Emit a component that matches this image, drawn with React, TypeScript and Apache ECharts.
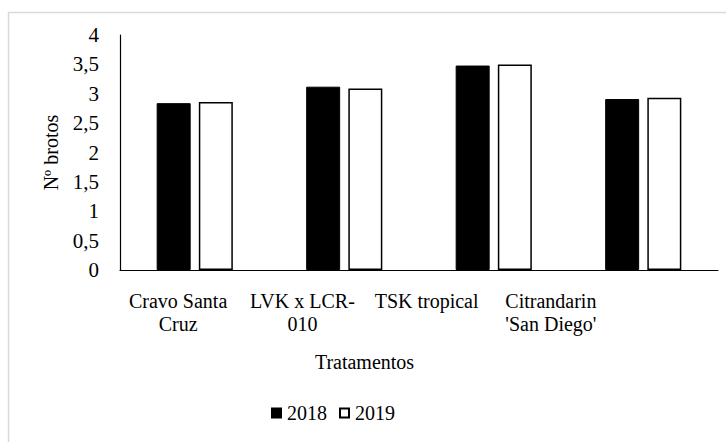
import React, { useEffect, useRef } from "react";
import * as echarts from "echarts";

const categories = ["Cravo Santa\nCruz", "LVK x LCR-\n010", "TSK tropical", "Citrandarin\n'San Diego'"];
const values2018 = [2.84, 3.12, 3.48, 2.91];
const values2019 = [2.86, 3.09, 3.5, 2.93];
const seriesNames = ["2018", "2019"];

const FONT = "'Liberation Serif', 'Times New Roman', serif";

export default function App() {
  const ref = useRef<HTMLDivElement>(null);
  useEffect(() => {
    if (!ref.current) return;
    const chart = echarts.init(ref.current, null, { renderer: "svg" });
    const txt = { fontFamily: FONT, fontSize: 20, color: "#000" };
    chart.setOption({
      animation: false,
      backgroundColor: "#ffffff",
      graphic: [
        {
          type: "rect",
          shape: { x: 8.5, y: 12.5, width: 740, height: 450 },
          style: { fill: "none", stroke: "#d9d9d9", lineWidth: 1.5 },
          silent: true,
        },
      ],
      legend: {
        data: seriesNames,
        left: 266,
        top: 398,
        icon: "rect",
        itemWidth: 9,
        itemHeight: 9,
        itemGap: 12,
        textStyle: { ...txt, padding: [0, 0, 0, 1] },
      },
      grid: [
        { left: 120, right: 8, top: 35, bottom: 172 },
        { left: 116, width: 497, top: 35, bottom: 172 },
      ],
      xAxis: [
        {
          type: "category",
          gridIndex: 0,
          data: categories,
          axisLine: { lineStyle: { color: "#000", width: 1.2 } },
          axisTick: { show: false },
          axisLabel: { show: false },
        },
        {
          type: "category",
          gridIndex: 1,
          data: categories,
          axisLine: { show: false },
          axisTick: { show: false },
          axisLabel: {
            ...txt,
            lineHeight: 23,
            margin: 19,
            interval: 0,
          },
          name: "Tratamentos",
          nameLocation: "middle",
          nameGap: 82,
          nameTextStyle: txt,
        },
      ],
      yAxis: [
        {
          type: "value",
          gridIndex: 0,
          min: 0,
          max: 4,
          interval: 0.5,
          axisLine: { show: true, lineStyle: { color: "#000", width: 1.2 } },
          axisTick: { show: false },
          splitLine: { show: false },
          axisLabel: {
            ...txt,
            fontSize: 21,
            margin: 21,
            formatter: (v: number) => String(v).replace(".", ","),
          },
          name: "Nº brotos",
          nameLocation: "middle",
          nameGap: 59,
          nameTextStyle: txt,
        },
        { type: "value", gridIndex: 1, show: false, min: 0, max: 4 },
      ],
      series: [
        {
          name: seriesNames[0],
          type: "bar",
          xAxisIndex: 0,
          yAxisIndex: 0,
          data: values2018,
          barWidth: 34,
          barGap: "24%",
          itemStyle: { color: "#000", borderColor: "#000", borderWidth: 1 },
        },
        {
          name: seriesNames[1],
          type: "bar",
          xAxisIndex: 0,
          yAxisIndex: 0,
          data: values2019,
          barWidth: 34,
          barGap: "24%",
          itemStyle: { color: "#fff", borderColor: "#000", borderWidth: 1.5 },
        },
      ],
    });
    return () => chart.dispose();
  }, []);
  return (
    <div
      ref={ref}
      style={{ position: "absolute", left: 0, top: 0, width: 726, height: 442 }}
    />
  );
}
